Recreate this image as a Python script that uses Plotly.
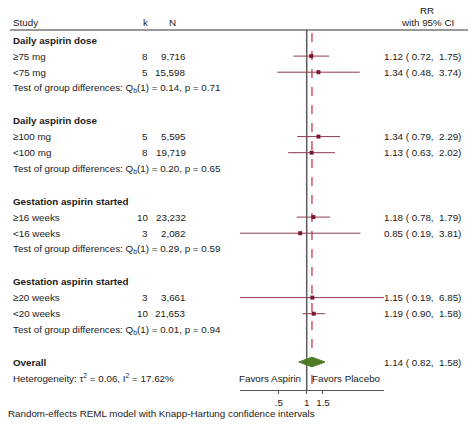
import plotly.graph_objects as go

# ---- data ----
row_labels = ["Daily aspirin dose", "≥75 mg", "<75 mg",
              "Test of group differences: Q<sub>b</sub>(1) = 0.14, p = 0.71", "",
              "Daily aspirin dose", "≥100 mg", "<100 mg",
              "Test of group differences: Q<sub>b</sub>(1) = 0.20, p = 0.65", "",
              "Gestation aspirin started", "≥16 weeks", "<16 weeks",
              "Test of group differences: Q<sub>b</sub>(1) = 0.29, p = 0.59", "",
              "Gestation aspirin started", "≥20 weeks", "<20 weeks",
              "Test of group differences: Q<sub>b</sub>(1) = 0.01, p = 0.94", "",
              "Overall", "Heterogeneity: τ<sup>2</sup> = 0.06, I<sup>2</sup> = 17.62%"]
bold_rows = [0, 5, 10, 15, 20]

study_rows = [1, 2, 6, 7, 11, 12, 16, 17]
k_vals = [8, 5, 5, 8, 10, 3, 3, 10]
n_vals = ["9,716", "15,598", "5,595", "19,719", "23,232", "2,082", "3,661", "21,653"]
rr = [1.12, 1.34, 1.34, 1.13, 1.18, 0.85, 1.15, 1.19]
lo = [0.72, 0.48, 0.79, 0.63, 0.78, 0.19, 0.19, 0.90]
hi = [1.75, 3.74, 2.29, 2.02, 1.79, 3.81, 6.85, 1.58]

overall_row = 20
overall_rr = 1.14
overall_lo = 0.82
overall_hi = 1.58

tick_vals = [0.5, 1, 1.5]
tick_text = [".5", "1", "1.5"]

# ---- figure ----
W, H = 474, 425
FONT = "Liberation Sans, Arial, sans-serif"
FS = 9.8
TXT = "#1a1a1a"
NB = "&nbsp;"

def px_to_row(py):
    return (py - 40) / 16.1

fig = go.Figure()

# CI lines
cx, cy = [], []
for r, a, b in zip(study_rows, lo, hi):
    cx += [a, b, None]
    cy += [r, r, None]
fig.add_trace(go.Scatter(x=cx, y=cy, mode="lines",
                         line=dict(color="#8c3a4e", width=1), hoverinfo="skip"))
# point estimates
fig.add_trace(go.Scatter(x=rr, y=study_rows, mode="markers",
                         marker=dict(symbol="square", size=4, color="#7a1a32"),
                         hoverinfo="skip"))
# overall diamond
hd = 0.3
fig.add_trace(go.Scatter(
    x=[overall_lo, overall_rr, overall_hi, overall_rr, overall_lo],
    y=[overall_row, overall_row - hd, overall_row, overall_row + hd, overall_row],
    mode="lines", fill="toself", fillcolor="#4f7a2a",
    line=dict(color="#4f7a2a", width=1), hoverinfo="skip"))

top_row = px_to_row(30)
bottom_row = px_to_row(390)

# no-effect line
fig.add_shape(type="line", xref="x", yref="y", x0=1, x1=1, y0=top_row, y1=bottom_row,
              line=dict(color="#5a5a5a", width=1.5), layer="below")
# overall effect dashed line
fig.add_shape(type="line", xref="x", yref="y", x0=overall_rr, x1=overall_rr,
              y0=px_to_row(33), y1=bottom_row,
              line=dict(color="#c8283c", width=1.2, dash="dash"), layer="below")
# header rule
fig.add_shape(type="line", xref="paper", yref="y", x0=10 / W, x1=468 / W,
              y0=top_row, y1=top_row, line=dict(color="#333333", width=1))

ann = []
def text(x, y, s, anchor="left", bold=False, yref="y"):
    ann.append(dict(x=x / W, y=y, xref="paper", yref=yref, text=("<b>%s</b>" % s if bold else s),
                    showarrow=False, xanchor=anchor, yanchor="middle",
                    font=dict(family=FONT, size=FS, color=TXT)))

def ci_text(e, a, b):
    return "%.2f (%s%.2f,%s%s%.2f)" % (e, NB, a, NB, NB, b)

# headers
text(11, px_to_row(22), "Study")
text(150, px_to_row(22), "k", anchor="right")
text(178, px_to_row(22), "N", anchor="right")
text(427, px_to_row(10), "RR", anchor="center")
text(427, px_to_row(22), "with 95% CI", anchor="center")

for i, lab in enumerate(row_labels):
    if lab:
        text(11, i, lab, bold=(i in bold_rows))

for r, k, n, e, a, b in zip(study_rows, k_vals, n_vals, rr, lo, hi):
    text(150, r, str(k), anchor="right")
    text(188, r, n, anchor="right")
    text(463, r, ci_text(e, a, b), anchor="right")
text(463, overall_row, ci_text(overall_rr, overall_lo, overall_hi), anchor="right")

text(303, 21, "Favors Aspirin", anchor="right")
text(310, 21, "Favors Placebo", anchor="left")

ann.append(dict(x=6 / W, y=(H - 413) / H, xref="paper", yref="paper",
                text="Random-effects REML model with Knapp-Hartung confidence intervals",
                showarrow=False, xanchor="left", yanchor="middle",
                font=dict(family=FONT, size=FS, color=TXT)))

fig.update_layout(
    width=W, height=H, margin=dict(l=0, r=0, t=0, b=0),
    paper_bgcolor="white", plot_bgcolor="white", showlegend=False,
    annotations=ann,
    xaxis=dict(type="log", domain=[240 / W, 384 / W],
               range=[-0.7212, 0.8357],
               tickvals=tick_vals, ticktext=tick_text,
               showline=True, linecolor="#555555", linewidth=1,
               ticks="outside", ticklen=3, tickcolor="#555555",
               showgrid=False, zeroline=False,
               tickfont=dict(family=FONT, size=FS, color=TXT)),
    yaxis=dict(domain=[35 / H, 1], range=[bottom_row, px_to_row(0)],
               showgrid=False, zeroline=False, showticklabels=False, showline=False),
)

fig.write_html("out.html", config={"displayModeBar": False},
               post_script="document.body.style.margin='0px';")
